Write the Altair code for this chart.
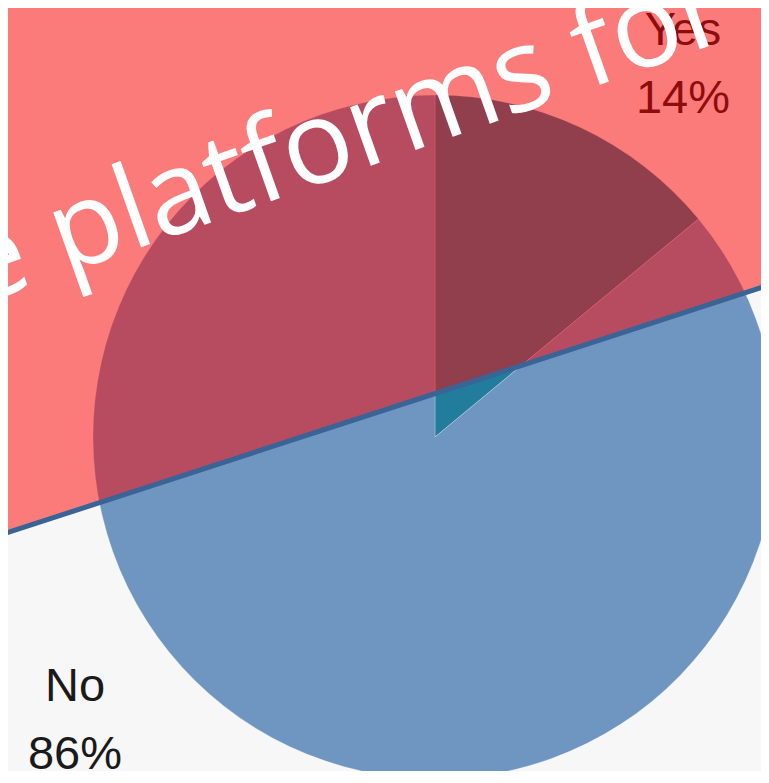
import math
import altair as alt
import pandas as pd

# ---- data ----
labels = ["Yes", "No"]
values = [14, 86]
pcts = ["14%", "86%"]
colors = ["#227c9b", "#6f96c0"]
title_text = "e platforms for"

# ---- layout (svg pixel coordinates) ----
W, H = 753, 763
cx, cy, R = 427, 429, 342
band_angle = math.degrees(math.atan(0.325))
a = math.radians(band_angle)
edge = (-8.0, 527.0)          # point on band lower edge
d = (math.cos(a), -math.sin(a))
n = (-math.sin(a), -math.cos(a))
band_w = 900

def pt(t, off):
    return (edge[0] + t * d[0] + off * n[0], edge[1] + t * d[1] + off * n[1])

b1, b2 = pt(-600, band_w / 2), pt(1800, band_w / 2)
l1, l2 = pt(-600, 0), pt(1800, 0)

df = pd.DataFrame({"label": labels, "value": values, "pct": pcts})
df["text"] = df["label"] + "\n" + df["pct"]
one = pd.DataFrame({"k": [0]})

pie = alt.Chart(df).mark_arc(
    outerRadius=R, stroke="white", strokeWidth=1, strokeOpacity=0.25
).encode(
    theta=alt.Theta("value:Q", stack=True),
    color=alt.Color("label:N", scale=alt.Scale(domain=labels, range=colors), legend=None),
    order=alt.Order("value:Q", sort="ascending"),
    x=alt.value(cx),
    y=alt.value(cy),
)


def label_layer(name, x, y):
    return alt.Chart(df).transform_filter(alt.datum.label == name).mark_text(
        lineBreak="\n", fontSize=47, font="Liberation Sans", align="center",
        baseline="alphabetic", lineHeight=68, color="#1a1a1a",
    ).encode(text="text:N", x=alt.value(x), y=alt.value(y))


yes_lab = label_layer("Yes", 675, 37)
no_lab = label_layer("No", 67, 693)

band = alt.Chart(one).mark_rule(
    color="#ff0000", opacity=0.5, strokeWidth=band_w, strokeCap="butt"
).encode(
    x=alt.value(b1[0]), y=alt.value(b1[1]), x2=alt.value(b2[0]), y2=alt.value(b2[1])
)

edge_line = alt.Chart(one).mark_rule(
    color="#3a6496", strokeWidth=5, strokeCap="butt"
).encode(
    x=alt.value(l1[0]), y=alt.value(l1[1]), x2=alt.value(l2[0]), y2=alt.value(l2[1])
)

title = alt.Chart(one).mark_text(
    angle=340.5, fontSize=116, font="Open Sans", color="white",
    align="left", baseline="alphabetic",
).encode(text=alt.value(title_text), x=alt.value(-33), y=alt.value(298))

chart = alt.layer(pie, yes_lab, no_lab, band, edge_line, title).properties(
    width=W, height=H, background="#f7f7f7", padding=0,
    autosize=alt.AutoSizeParams(type="none"),
).configure_view(stroke="transparent")

chart.save("out.html", embed_options={"renderer": "svg", "actions": False})
